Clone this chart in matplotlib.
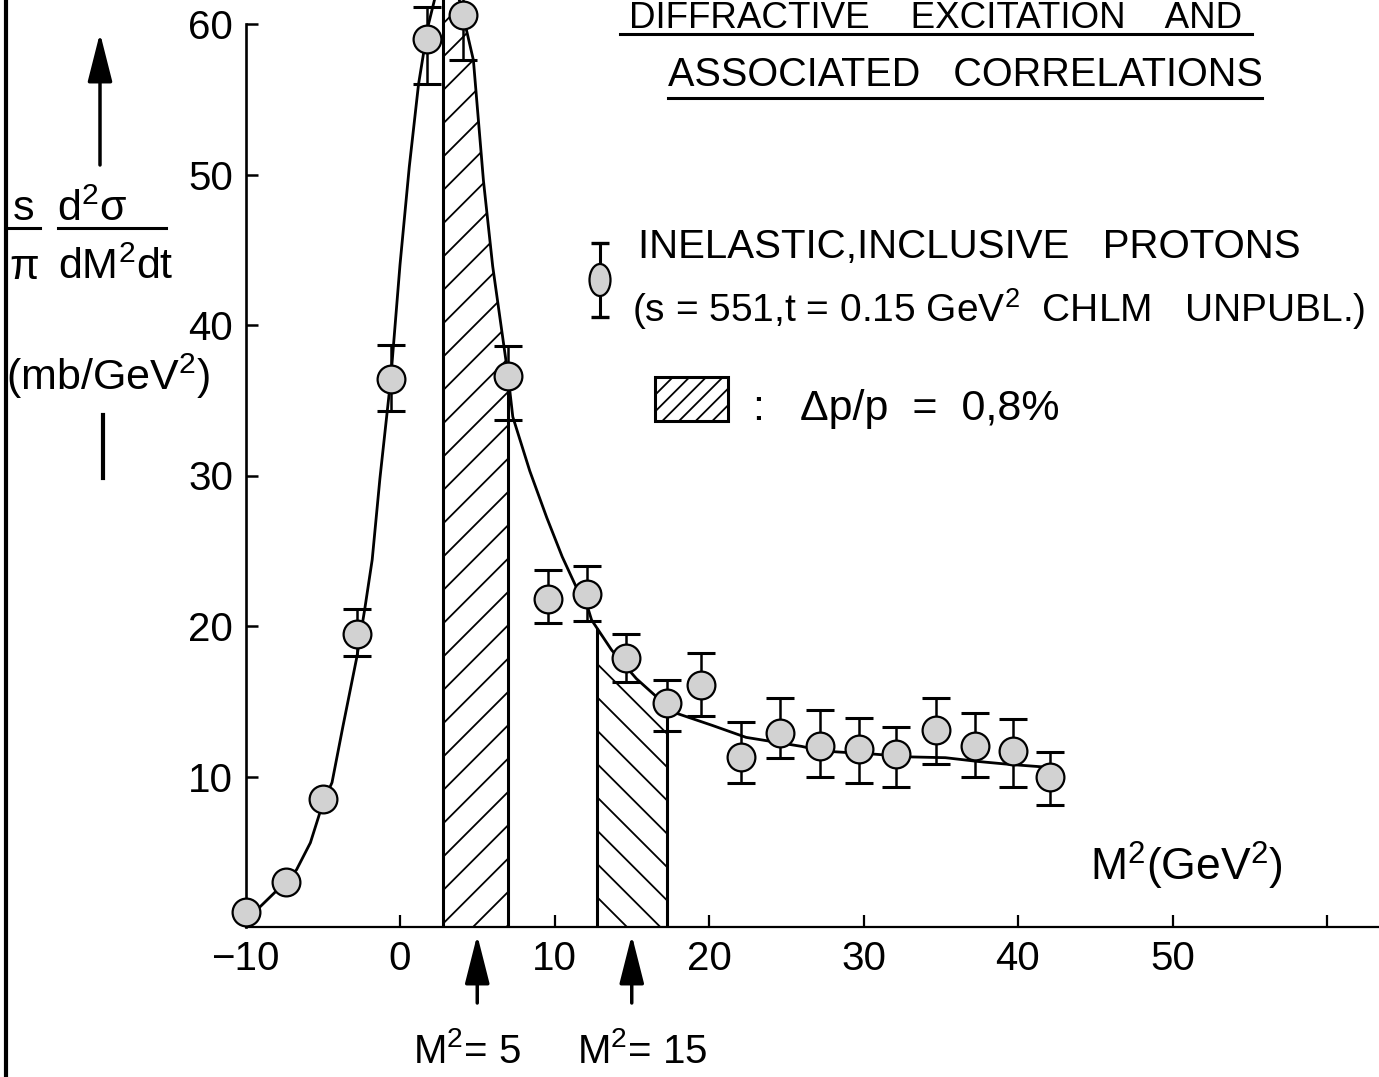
import numpy as np
import matplotlib
matplotlib.use("Agg")
import matplotlib.pyplot as plt
from matplotlib.patches import Rectangle, Ellipse

# ---------------- data ----------------
m2 = [-10.0, -7.4, -5.0, -2.8, -0.6, 1.75, 4.05, 7.0, 9.55, 12.1, 14.6, 17.25,
      19.5, 22.1, 24.6, 27.2, 29.7, 32.1, 34.7, 37.2, 39.7, 42.1]
xsec = [1.0, 3.0, 8.5, 19.5, 36.4, 59.0, 60.6, 36.6, 21.8, 22.1, 17.9, 14.9,
        16.1, 11.3, 12.9, 12.0, 11.8, 11.5, 13.1, 12.0, 11.7, 10.0]
err_minus = [0, 0, 0, 1.5, 2.1, 3.0, 3.0, 2.9, 1.6, 1.8, 1.6, 1.9,
             2.1, 1.7, 1.7, 2.0, 2.2, 2.2, 2.3, 2.0, 2.4, 1.9]
err_plus = [0, 0, 0, 1.6, 2.3, 2.1, 3.0, 2.0, 1.9, 1.9, 1.6, 1.5,
            2.1, 2.3, 2.3, 2.4, 2.1, 1.8, 2.1, 2.2, 2.1, 1.6]

curve_x = [-10.0, -9.1, -7.4, -6.7, -5.8, -5.0, -4.4, -3.7, -2.8, -2.3, -1.8,
           -1.3, -0.6, 0.0, 0.6, 1.2, 1.8, 2.4, 3.0, 3.6, 4.1, 4.75, 5.4, 6.0,
           7.0, 7.3, 8.4, 9.5, 10.5, 11.4, 12.1, 12.4, 13.7, 15.3, 16.6, 17.9,
           20.2, 22.4, 24.5, 26.0, 27.3, 28.8, 30.5, 33.1, 35.3, 37.4, 39.5, 42.1]
curve_y = [0.6, 1.3, 3.0, 3.8, 5.6, 8.2, 9.6, 13.3, 17.9, 21.0, 24.4,
           29.8, 36.4, 44.0, 50.5, 56.0, 59.8, 62.3, 63.5, 62.6, 60.5, 57.6, 49.6, 43.9,
           36.6, 33.9, 30.3, 27.2, 24.6, 22.6, 21.4, 20.4, 18.4, 16.5, 15.3, 14.2,
           13.4, 12.6, 12.25, 12.0, 11.7, 11.6, 11.5, 11.3, 11.25, 11.0, 10.8, 10.6]

hatch_lo = [2.8, 12.75]
hatch_hi = [7.0, 17.3]
hatch_pattern = ["/", "\\"]

xticks = [-10, 0, 10, 20, 30, 40, 50, 60]
xtick_labels = ["\u221210", "0", "10", "20", "30", "40", "50", ""]
yticks = [10, 20, 30, 40, 50, 60]
ytick_labels = ["10", "20", "30", "40", "50", "60"]
arrow_marks = [5, 15]
arrow_labels = [r"M$^{\mathregular{2}}$= 5", r"M$^{\mathregular{2}}$= 15"]

# ---------------- style ----------------
FONT = "Liberation Sans"
plt.rcParams["font.family"] = [FONT, "DejaVu Sans"]
plt.rcParams["mathtext.fontset"] = "custom"
plt.rcParams["mathtext.rm"] = FONT
plt.rcParams["mathtext.it"] = FONT + ":italic"
plt.rcParams["mathtext.bf"] = FONT + ":bold"
plt.rcParams["hatch.linewidth"] = 1.3

W, H = 1379, 1077
fig = plt.figure(figsize=(W / 100, H / 100), dpi=100)

# overlay in pixel coordinates for free annotations
ov = fig.add_axes([0, 0, 1, 1], zorder=0)
ov.set_xlim(0, W)
ov.set_ylim(H, 0)
ov.axis("off")

X0, XS = 400.0, 15.45     # px of M2=0, px per unit
Y0, YS = 927.0, 15.05     # px of value 0, px per unit
ax = fig.add_axes([(X0 - 10 * XS) / W, 1 - Y0 / H, (W - (X0 - 10 * XS)) / W, Y0 / H], zorder=1)
ax.patch.set_alpha(0)
ax.set_xlim(-10, (W - X0) / XS)
ax.set_ylim(0, Y0 / YS)

# curve
ax.plot(curve_x, curve_y, color="k", lw=2.0, zorder=3, solid_capstyle="round")

# hatched bands
for lo, hi, hp in zip(hatch_lo, hatch_hi, hatch_pattern):
    xs = np.array([lo] + [c for c in curve_x if lo < c < hi] + [hi])
    ys = np.interp(xs, curve_x, curve_y)
    ax.fill_between(xs, 0, ys, facecolor="none", edgecolor="k", hatch=hp, lw=0, zorder=2)
    ax.vlines([lo, hi], 0, [ys[0], ys[-1]], color="k", lw=2.2, zorder=3)

# error bars and points
m2a, ya = np.array(m2), np.array(xsec)
em, ep = np.array(err_minus), np.array(err_plus)
has = (em > 0) | (ep > 0)
ax.errorbar(m2a[has], ya[has], yerr=[em[has], ep[has]], fmt="none", ecolor="k",
            elinewidth=1.8, capsize=10, capthick=2.2, zorder=4, clip_on=False)
ax.plot(m2a, ya, "o", ms=20, mfc="#d2d2d2", mec="k", mew=1.6, clip_on=False, zorder=5)

# axes styling
for s in ["top", "right"]:
    ax.spines[s].set_visible(False)
ax.spines["left"].set_bounds(0, 60)
ax.spines["left"].set_linewidth(1.9)
ax.spines["bottom"].set_linewidth(1.6)
ax.set_xticks(xticks)
ax.set_xticklabels(xtick_labels)
ax.set_yticks(yticks)
ax.set_yticklabels(ytick_labels)
ax.tick_params(axis="x", direction="in", length=8.5, width=1.6, pad=9, labelsize=29)
ax.tick_params(axis="y", direction="in", length=8.5, width=1.8, pad=9, labelsize=29)

# ---------------- annotations (pixel coordinates) ----------------
# page border line
ov.plot([6, 6], [0, H], color="k", lw=3.0)

# titles
ov.text(936, 28, "DIFFRACTIVE    EXCITATION    AND", fontsize=26.5, ha="center", va="baseline")
ov.plot([620, 1252], [34, 34], color="k", lw=2.2)
ov.text(965, 86, "ASSOCIATED   CORRELATIONS", fontsize=28.5, ha="center", va="baseline")
ov.plot([668, 1262], [98, 98], color="k", lw=2.2)

# y-axis label
YL = 31
ov.text(24, 220, "s", fontsize=YL, ha="center", va="baseline")
ov.plot([8, 40], [228, 228], color="k", lw=2.2)
ov.text(24, 279, "\u03c0", fontsize=YL, ha="center", va="baseline")
ov.text(57, 221, r"d$^{\mathregular{2}}$$\mathregular{\sigma}$", fontsize=YL, ha="left", va="baseline")
ov.plot([58, 166], [228, 228], color="k", lw=2.2)
ov.text(58, 279, r"dM$^{\mathregular{2}}$dt", fontsize=YL, ha="left", va="baseline")
ov.text(6, 390, r"(mb/GeV$^{\mathregular{2}}$)", fontsize=YL, ha="left", va="baseline")
ov.annotate("", xy=(100, 33), xytext=(100, 165),
            arrowprops=dict(arrowstyle="-|>,head_length=1.5,head_width=0.38",
                            mutation_scale=20, lw=2.5, color="k", shrinkA=0, shrinkB=0))
ov.plot([103, 103], [415, 478], color="k", lw=3.0)

# legend
ov.errorbar([600], [280], yerr=[[37]], fmt="none", ecolor="k", elinewidth=2.2,
            capsize=6.5, capthick=2.4)
ov.add_patch(Ellipse((600, 280), 21, 32, facecolor="#d2d2d2", edgecolor="k", lw=1.6, zorder=5))
ov.text(638, 258, "INELASTIC,INCLUSIVE   PROTONS", fontsize=29, ha="left", va="baseline")
ov.text(632, 322, r"(s = 551,t = 0.15 GeV$^{\mathregular{2}}$  CHLM   UNPUBL.)",
        fontsize=28, ha="left", va="baseline")
ov.add_patch(Rectangle((655, 377), 73, 44, facecolor="none", edgecolor="k", lw=2.2, hatch="//"))
ov.text(752, 420, ":", fontsize=31, ha="left", va="baseline")
ov.text(800, 420, "\u0394p/p  =  0,8%", fontsize=31, ha="left", va="baseline")

# x-axis label
ov.text(1090, 881, r"M$^{\mathregular{2}}$(GeV$^{\mathregular{2}}$)", fontsize=32, ha="left", va="baseline")

# arrows below the axis
for mk, lab in zip(arrow_marks, arrow_labels):
    px = X0 + mk * XS
    ov.annotate("", xy=(px, 935), xytext=(px, 1003),
                arrowprops=dict(arrowstyle="-|>,head_length=1.5,head_width=0.38",
                                mutation_scale=20, lw=2.5, color="k", shrinkA=0, shrinkB=0))
    ov.text(px - 10 if mk == 5 else px + 10, 1063, lab, fontsize=29, ha="center", va="baseline")

fig.savefig("out.png", dpi=100)
